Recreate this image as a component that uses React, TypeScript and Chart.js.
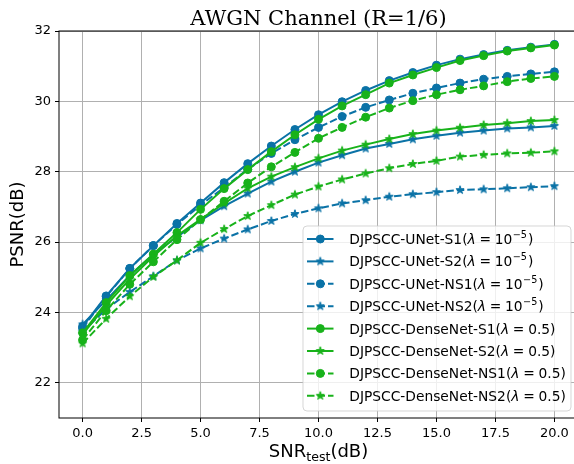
import React, { useEffect, useRef } from "react";
import { Chart, registerables } from "chart.js";

Chart.register(...registerables);

// ---- data ----
const snrDb = [0, 1, 2, 3, 4, 5, 6, 7, 8, 9, 10, 11, 12, 13, 14, 15, 16, 17, 18, 19, 20];
const unetS1 = [23.6, 24.47, 25.25, 25.9, 26.53, 27.11, 27.69, 28.23, 28.73, 29.2, 29.62, 29.99, 30.31, 30.59, 30.82, 31.03, 31.2, 31.33, 31.45, 31.54, 31.62];
const unetS2 = [23.66, 24.35, 25.05, 25.65, 26.15, 26.62, 27.02, 27.38, 27.72, 28.0, 28.26, 28.47, 28.66, 28.79, 28.92, 29.02, 29.11, 29.17, 29.23, 29.26, 29.3];
const unetNS1 = [23.55, 24.45, 25.25, 25.9, 26.5, 27.05, 27.55, 28.07, 28.52, 28.91, 29.26, 29.57, 29.83, 30.04, 30.23, 30.38, 30.52, 30.63, 30.71, 30.78, 30.84];
const unetNS2 = [23.45, 24.1, 24.58, 25.03, 25.48, 25.82, 26.1, 26.36, 26.6, 26.8, 26.96, 27.1, 27.19, 27.29, 27.36, 27.42, 27.48, 27.5, 27.53, 27.56, 27.59];
const denseS1 = [23.42, 24.28, 25.05, 25.66, 26.27, 26.93, 27.52, 28.06, 28.57, 29.05, 29.49, 29.87, 30.19, 30.52, 30.75, 30.96, 31.16, 31.3, 31.43, 31.52, 31.6];
const denseS2 = [23.38, 24.2, 24.95, 25.6, 26.18, 26.65, 27.1, 27.53, 27.86, 28.13, 28.38, 28.6, 28.77, 28.93, 29.07, 29.17, 29.25, 29.33, 29.38, 29.44, 29.47];
const denseNS1 = [23.22, 24.05, 24.8, 25.44, 26.07, 26.64, 27.16, 27.68, 28.14, 28.55, 28.95, 29.26, 29.55, 29.81, 30.02, 30.19, 30.33, 30.44, 30.56, 30.65, 30.71];
const denseNS2 = [23.12, 23.82, 24.46, 25.01, 25.48, 25.98, 26.37, 26.74, 27.05, 27.35, 27.58, 27.78, 27.95, 28.1, 28.22, 28.31, 28.43, 28.48, 28.52, 28.54, 28.58];

const seriesNames = [
  "DJPSCC-UNet-S1",
  "DJPSCC-UNet-S2",
  "DJPSCC-UNet-NS1",
  "DJPSCC-UNet-NS2",
  "DJPSCC-DenseNet-S1",
  "DJPSCC-DenseNet-S2",
  "DJPSCC-DenseNet-NS1",
  "DJPSCC-DenseNet-NS2",
];
const seriesLambda = ["exp-5", "exp-5", "exp-5", "exp-5", "0.5", "0.5", "0.5", "0.5"];
const xTicks = [0, 2.5, 5, 7.5, 10, 12.5, 15, 17.5, 20];
const yTicks = [22, 24, 26, 28, 30, 32];
const titleText = "AWGN Channel (R=1/6)";

// ---- styles ----
const BLUE = "#0a72a6";
const GREEN = "#18b21a";
const seriesValues = [unetS1, unetS2, unetNS1, unetNS2, denseS1, denseS2, denseNS1, denseNS2];
const seriesStyle = [
  { color: BLUE, dashed: false, marker: "circle" },
  { color: BLUE, dashed: false, marker: "star" },
  { color: BLUE, dashed: true, marker: "circle" },
  { color: BLUE, dashed: true, marker: "star" },
  { color: GREEN, dashed: false, marker: "circle" },
  { color: GREEN, dashed: false, marker: "star" },
  { color: GREEN, dashed: true, marker: "circle" },
  { color: GREEN, dashed: true, marker: "star" },
];
const DASH = [7.5, 3];

function makeStar(color: string): HTMLCanvasElement {
  const c = document.createElement("canvas");
  c.width = 12;
  c.height = 12;
  const g = c.getContext("2d")!;
  g.beginPath();
  for (let i = 0; i < 10; i++) {
    const r = i % 2 === 0 ? 4.3 : 1.65;
    const a = -Math.PI / 2 + (i * Math.PI) / 5;
    const px = 6 + r * Math.cos(a);
    const py = 6 + r * Math.sin(a);
    if (i === 0) g.moveTo(px, py);
    else g.lineTo(px, py);
  }
  g.closePath();
  g.fillStyle = color;
  g.fill();
  g.strokeStyle = color;
  g.lineWidth = 1;
  g.stroke();
  return c;
}

export default function App() {
  const ref = useRef<HTMLCanvasElement>(null);

  useEffect(() => {
    document.body.style.margin = "0";
    document.body.style.overflow = "hidden";
    const canvas = ref.current!;
    const stars: Record<string, HTMLCanvasElement> = {
      [BLUE]: makeStar(BLUE),
      [GREEN]: makeStar(GREEN),
    };

    const datasets = seriesValues.map((vals, i) => {
      const st = seriesStyle[i];
      return {
        label: seriesNames[i],
        data: vals.map((v, k) => ({ x: snrDb[k], y: v })),
        borderColor: st.color,
        backgroundColor: st.color,
        borderWidth: 2,
        borderDash: st.dashed ? DASH : [],
        pointStyle: st.marker === "star" ? stars[st.color] : "circle",
        pointRadius: 4,
        pointBorderWidth: 1,
        pointBorderColor: st.color,
        pointBackgroundColor: st.color,
        tension: 0,
        order: 7 - i,
      };
    });

    const overlay = {
      id: "overlay",
      afterDraw(chart: any) {
        const ctx: CanvasRenderingContext2D = chart.ctx;
        const ca = chart.chartArea;
        ctx.save();
        // frame
        ctx.strokeStyle = "#000";
        ctx.lineWidth = 1;
        ctx.setLineDash([]);
        ctx.strokeRect(ca.left, ca.top, ca.right - ca.left, ca.bottom - ca.top);

        // title
        ctx.fillStyle = "#000";
        ctx.font = '21px "DejaVu Serif"';
        ctx.textAlign = "center";
        ctx.textBaseline = "alphabetic";
        ctx.fillText(titleText, (ca.left + ca.right) / 2, 24.5);

        // x label
        const cx = (ca.left + ca.right) / 2;
        ctx.textAlign = "left";
        ctx.font = '18px "DejaVu Sans"';
        const w1 = ctx.measureText("SNR").width;
        const w3 = ctx.measureText("(dB)").width;
        ctx.font = '12.6px "DejaVu Sans"';
        const w2 = ctx.measureText("test").width;
        let sx = cx - (w1 + w2 + w3) / 2;
        const bl = 457;
        ctx.font = '18px "DejaVu Sans"';
        ctx.fillText("SNR", sx, bl);
        sx += w1;
        ctx.font = '12.6px "DejaVu Sans"';
        ctx.fillText("test", sx, bl + 3.6);
        sx += w2;
        ctx.font = '18px "DejaVu Sans"';
        ctx.fillText("(dB)", sx, bl);

        // y label
        ctx.save();
        ctx.translate(23, (ca.top + ca.bottom) / 2);
        ctx.rotate(-Math.PI / 2);
        ctx.textAlign = "center";
        ctx.font = '18px "DejaVu Sans"';
        ctx.fillText("PSNR(dB)", 0, 0);
        ctx.restore();

        // legend
        const lx = 303, ly = 226, lw = 268, lh = 185, rr = 4;
        ctx.beginPath();
        ctx.moveTo(lx + rr, ly);
        ctx.arcTo(lx + lw, ly, lx + lw, ly + lh, rr);
        ctx.arcTo(lx + lw, ly + lh, lx, ly + lh, rr);
        ctx.arcTo(lx, ly + lh, lx, ly, rr);
        ctx.arcTo(lx, ly, lx + lw, ly, rr);
        ctx.closePath();
        ctx.fillStyle = "rgba(255,255,255,0.8)";
        ctx.fill();
        ctx.strokeStyle = "rgba(204,204,204,0.8)";
        ctx.lineWidth = 1;
        ctx.stroke();

        const F = 13.8;
        for (let i = 0; i < seriesNames.length; i++) {
          const st = seriesStyle[i];
          const cy = 239 + i * 22.4;
          ctx.strokeStyle = st.color;
          ctx.lineWidth = 2;
          ctx.setLineDash(st.dashed ? DASH : []);
          ctx.beginPath();
          ctx.moveTo(307, cy);
          ctx.lineTo(333.5, cy);
          ctx.stroke();
          ctx.setLineDash([]);
          if (st.marker === "star") {
            const s = stars[st.color];
            ctx.drawImage(s, 320.3 - s.width / 2, cy - s.height / 2);
          } else {
            ctx.beginPath();
            ctx.arc(320.3, cy, 4, 0, Math.PI * 2);
            ctx.fillStyle = st.color;
            ctx.fill();
            ctx.lineWidth = 1;
            ctx.stroke();
          }
          // label
          const base = cy + 5;
          let tx = 349.3;
          ctx.fillStyle = "#000";
          ctx.textAlign = "left";
          ctx.font = `${F}px "DejaVu Sans"`;
          const pre = seriesNames[i] + "(";
          ctx.fillText(pre, tx, base);
          tx += ctx.measureText(pre).width;
          ctx.font = `italic ${F}px "DejaVu Sans"`;
          ctx.fillText("λ", tx, base);
          tx += ctx.measureText("λ").width;
          ctx.font = `${F}px "DejaVu Sans"`;
          tx += F * 0.27;
          ctx.fillText("=", tx, base);
          tx += ctx.measureText("=").width + F * 0.27;
          if (seriesLambda[i] === "exp-5") {
            ctx.fillText("10", tx, base);
            tx += ctx.measureText("10").width;
            ctx.font = `${F * 0.7}px "DejaVu Sans"`;
            ctx.fillText("\u22125", tx + 0.5, base - 6);
            tx += ctx.measureText("\u22125").width + 1.5;
            ctx.font = `${F}px "DejaVu Sans"`;
          } else {
            ctx.fillText(seriesLambda[i], tx, base);
            tx += ctx.measureText(seriesLambda[i]).width;
          }
          ctx.fillText(")", tx, base);
        }
        ctx.restore();
      },
    };

    const tickFont = { family: "DejaVu Sans", size: 13 };
    const chart = new Chart(canvas, {
      type: "line",
      data: { datasets: datasets as any },
      options: {
        animation: false,
        responsive: false,
        devicePixelRatio: 1,
        layout: { padding: { top: 31, right: 22, left: 0, bottom: 0 } },
        plugins: {
          legend: { display: false },
          title: { display: false },
          tooltip: { enabled: false },
        },
        scales: {
          x: {
            type: "linear",
            min: -1,
            max: 21,
            afterBuildTicks: (s: any) => {
              s.ticks = xTicks.map((v) => ({ value: v }));
            },
            afterFit: (s: any) => {
              s.height = 46;
            },
            ticks: {
              callback: (v: any) => Number(v).toFixed(1),
              font: tickFont,
              color: "#000",
              padding: 4,
              maxRotation: 0,
              autoSkip: false,
            },
            grid: {
              color: "#b0b0b0",
              lineWidth: 1,
              tickColor: "#000",
              tickLength: 4,
              tickWidth: 1,
            },
            border: { display: false },
          },
          y: {
            type: "linear",
            min: 21,
            max: 32,
            afterBuildTicks: (s: any) => {
              s.ticks = yTicks.map((v) => ({ value: v }));
            },
            afterFit: (s: any) => {
              s.width = 59;
            },
            ticks: {
              callback: (v: any) => String(v),
              font: tickFont,
              color: "#000",
              padding: 4,
              autoSkip: false,
            },
            grid: {
              color: "#b0b0b0",
              lineWidth: 1,
              tickColor: "#000",
              tickLength: 4,
              tickWidth: 1,
            },
            border: { display: false },
          },
        },
      },
      plugins: [overlay],
    });
    return () => chart.destroy();
  }, []);

  return (
    <div style={{ position: "fixed", left: 0, top: 0, width: 574, height: 464, overflow: "hidden", background: "#fff" }}>
      <canvas ref={ref} width={600} height={464} style={{ width: 600, height: 464, display: "block" }} />
    </div>
  );
}
